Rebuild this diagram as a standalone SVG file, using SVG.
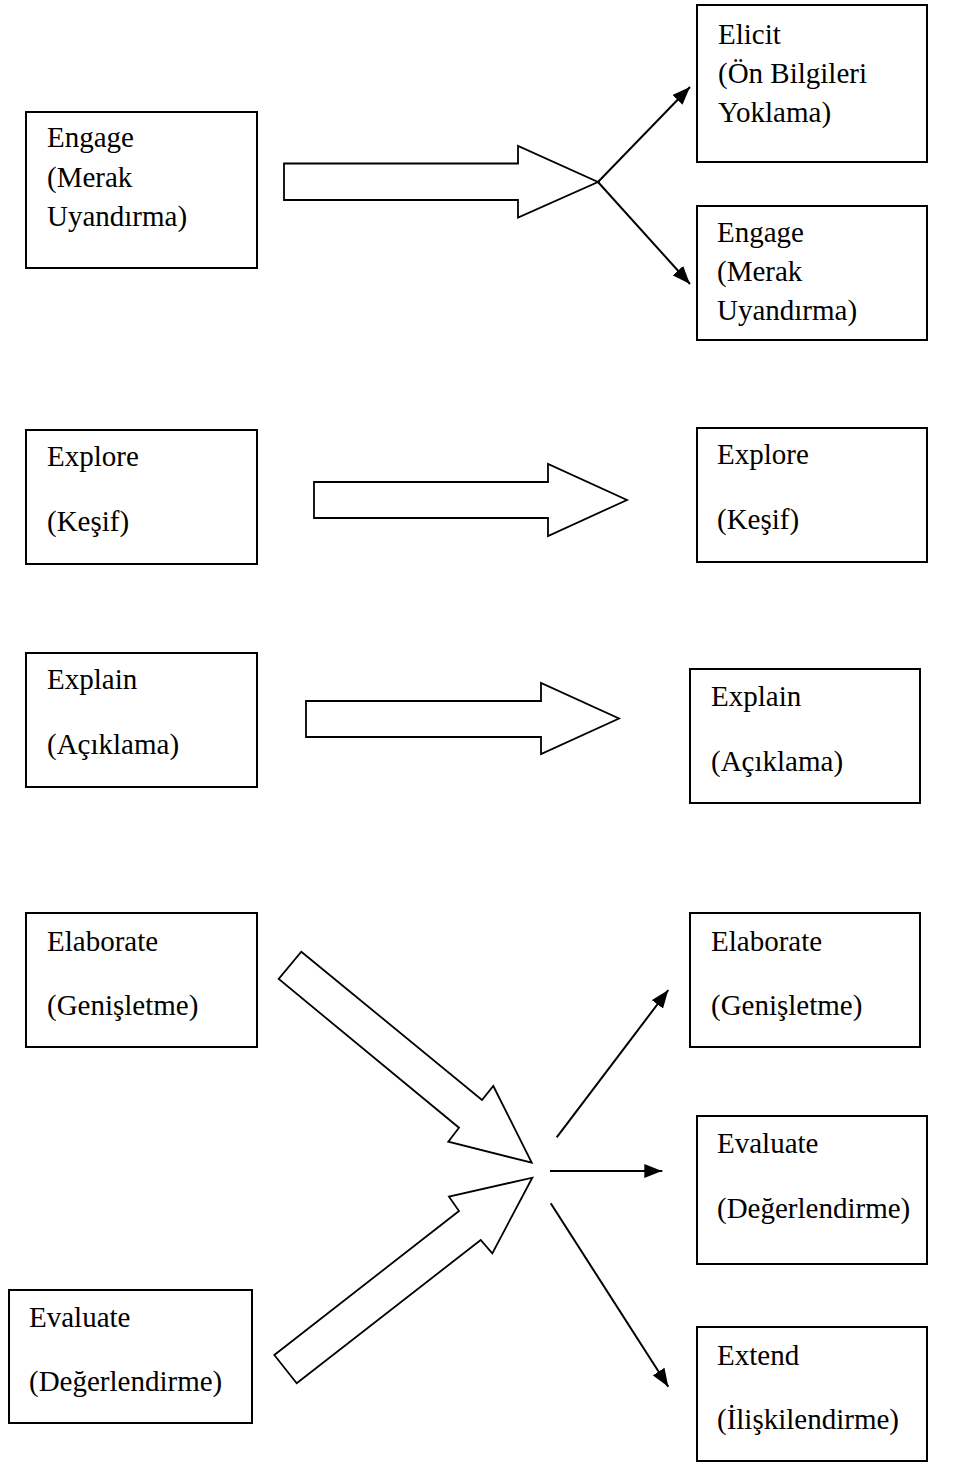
<svg xmlns="http://www.w3.org/2000/svg" width="960" height="1463" viewBox="0 0 960 1463">
<style>
.box{fill:#fff;stroke:#000;stroke-width:2}
.blk{fill:#fff;stroke:#000;stroke-width:1.8;stroke-linejoin:miter}
.ln{fill:none;stroke:#000;stroke-width:2}
text{font-family:"Liberation Serif","Times New Roman",serif;font-size:29px;fill:#000}
</style>
<defs>
<marker id="ah" markerWidth="9" markerHeight="7" refX="9" refY="3.5" orient="auto" markerUnits="strokeWidth">
<path d="M0,0 L9,3.5 L0,7 Z" fill="#000"/>
</marker>
</defs>
<rect width="960" height="1463" fill="#fff"/>
<g id="n-engage-l"><rect class="box" x="26" y="112" width="231" height="156"/><text x="47" y="147">Engage</text><text x="47" y="187">(Merak</text><text x="47" y="226">Uyandırma)</text></g>
<g id="n-elicit"><rect class="box" x="697" y="5" width="230" height="157"/><text x="718" y="44">Elicit</text><text x="718" y="83">(Ön Bilgileri</text><text x="718" y="122">Yoklama)</text></g>
<g id="n-engage-r"><rect class="box" x="697" y="206" width="230" height="134"/><text x="717" y="242">Engage</text><text x="717" y="281">(Merak</text><text x="717" y="320">Uyandırma)</text></g>
<g id="n-explore-l"><rect class="box" x="26" y="430" width="231" height="134"/><text x="47" y="466">Explore</text><text x="47" y="531">(Keşif)</text></g>
<g id="n-explore-r"><rect class="box" x="697" y="428" width="230" height="134"/><text x="717" y="464">Explore</text><text x="717" y="529">(Keşif)</text></g>
<g id="n-explain-l"><rect class="box" x="26" y="653" width="231" height="134"/><text x="47" y="689">Explain</text><text x="47" y="754">(Açıklama)</text></g>
<g id="n-explain-r"><rect class="box" x="690" y="669" width="230" height="134"/><text x="711" y="706">Explain</text><text x="711" y="771">(Açıklama)</text></g>
<g id="n-elaborate-l"><rect class="box" x="26" y="913" width="231" height="134"/><text x="47" y="951">Elaborate</text><text x="47" y="1015">(Genişletme)</text></g>
<g id="n-elaborate-r"><rect class="box" x="690" y="913" width="230" height="134"/><text x="711" y="951">Elaborate</text><text x="711" y="1015">(Genişletme)</text></g>
<g id="n-evaluate-r"><rect class="box" x="697" y="1116" width="230" height="148"/><text x="717" y="1153">Evaluate</text><text x="717" y="1218">(Değerlendirme)</text></g>
<g id="n-evaluate-l"><rect class="box" x="9" y="1290" width="243" height="133"/><text x="29" y="1327">Evaluate</text><text x="29" y="1391">(Değerlendirme)</text></g>
<g id="n-extend"><rect class="box" x="697" y="1327" width="230" height="134"/><text x="717" y="1365">Extend</text><text x="717" y="1429">(İlişkilendirme)</text></g>
<g id="connectors">
<polygon class="blk" points="284,163.5 518,163.5 518,146 598,182 518,217.5 518,200 284,200"/>
<line class="ln" x1="598" y1="182" x2="690" y2="87" marker-end="url(#ah)"/>
<line class="ln" x1="598" y1="182" x2="690" y2="284" marker-end="url(#ah)"/>
<polygon class="blk" points="314,482 548,482 548,464 627,500 548,536 548,518 314,518"/>
<polygon class="blk" points="306,701 541,701 541,683 619,718.5 541,754 541,737 306,737"/>
<polygon class="blk" points="301.3,951.7 482,1100 493.3,1086 531.7,1162.7 448.3,1141.7 459,1127.7 278.7,979"/>
<polygon class="blk" points="274.3,1355 459,1211 449,1196.7 532.3,1177.7 492.3,1253.3 480.7,1240 296.7,1383.3"/>
<line class="ln" x1="556.7" y1="1137.3" x2="668.3" y2="990" marker-end="url(#ah)"/>
<line class="ln" x1="550" y1="1171" x2="662.3" y2="1171" marker-end="url(#ah)"/>
<line class="ln" x1="550.7" y1="1203.3" x2="668.3" y2="1386.7" marker-end="url(#ah)"/>
</g>
</svg>
